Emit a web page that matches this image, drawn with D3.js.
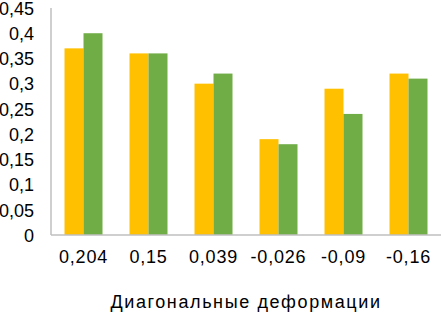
<!DOCTYPE html>
<html>
<head>
<meta charset="utf-8">
<script src="https://cdn.jsdelivr.net/npm/d3@7"></script>
<style>
  body { margin: 0; background: #fff; }
  text { font-family: "Liberation Sans", Arial, sans-serif; fill: #000; }
</style>
</head>
<body>
<div id="chart"></div>
<script>
const categories = ["0,204", "0,15", "0,039", "-0,026", "-0,09", "-0,16"];
const seriesA = [0.37, 0.36, 0.30, 0.19, 0.29, 0.32];
const seriesB = [0.40, 0.36, 0.32, 0.18, 0.24, 0.31];
const yTicks = [0, 0.05, 0.1, 0.15, 0.2, 0.25, 0.3, 0.35, 0.4, 0.45];
const xTitle = "Диагональные деформации";

const width = 442, height = 312;
const margin = { top: 8, right: 1, bottom: 77, left: 51 };

const svg = d3.select("#chart").append("svg")
  .attr("width", width)
  .attr("height", height);

const x = d3.scaleBand()
  .domain(categories)
  .range([margin.left, width - margin.right])
  .paddingInner(0)
  .paddingOuter(0);

const y = d3.scaleLinear()
  .domain([0, 0.45])
  .range([height - margin.bottom, margin.top]);

const barW = 19;
const colors = ["#FFC000", "#70AD47"];
const rows = categories.map((c, i) => ({ c, a: seriesA[i], b: seriesB[i] }));

[["a", -barW], ["b", 0]].forEach(([key, off], k) => {
  svg.append("g").selectAll("rect")
    .data(rows)
    .enter().append("rect")
    .attr("x", d => x(d.c) + x.bandwidth() / 2 + off)
    .attr("y", d => y(d[key]))
    .attr("width", barW)
    .attr("height", d => y(0) - y(d[key]))
    .attr("fill", colors[k]);
});

// axes lines
svg.append("line")
  .attr("x1", margin.left).attr("x2", margin.left)
  .attr("y1", y(0.45)).attr("y2", y(0))
  .attr("stroke", "#BFBFBF").attr("stroke-width", 1.5);
svg.append("line")
  .attr("x1", margin.left).attr("x2", width - margin.right)
  .attr("y1", y(0)).attr("y2", y(0))
  .attr("stroke", "#BFBFBF").attr("stroke-width", 1.5);

svg.append("g").selectAll("text")
  .data(yTicks)
  .enter().append("text")
  .attr("x", 34)
  .attr("y", d => y(d) + 0.5)
  .attr("dy", "0.35em")
  .attr("text-anchor", "end")
  .style("font-size", "18px")
  .text(d => String(+d.toFixed(2)).replace(".", ","));

svg.append("g").selectAll("text")
  .data(categories)
  .enter().append("text")
  .attr("x", d => x(d) + x.bandwidth() / 2)
  .attr("y", y(0) + 22)
  .attr("dy", "0.35em")
  .attr("text-anchor", "middle")
  .style("font-size", "18px")
  .style("letter-spacing", "0.8px")
  .text(d => d);

svg.append("text")
  .attr("x", 246)
  .attr("y", 302)
  .attr("dy", "0.35em")
  .attr("text-anchor", "middle")
  .style("font-size", "18px")
  .style("letter-spacing", "1.6px")
  .text(xTitle);
</script>
</body>
</html>
